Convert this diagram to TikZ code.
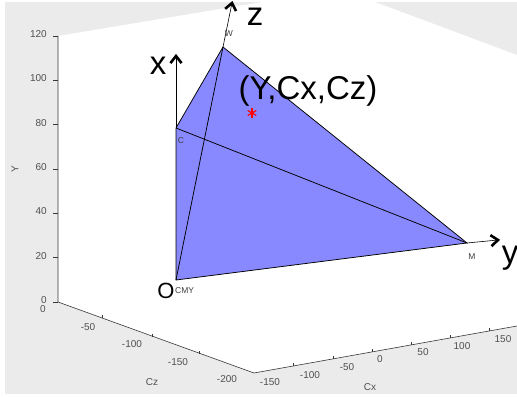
\documentclass[tikz,border=0pt]{standalone}
\usepackage{fontspec}
\setmainfont{Liberation Sans}
\usetikzlibrary{calc}
\definecolor{panelgray}{RGB}{235,235,235}
\definecolor{tickgray}{RGB}{80,80,80}
\definecolor{axisgray}{RGB}{55,55,55}
\definecolor{tetrablue}{RGB}{136,136,255}

\begin{document}
\begin{tikzpicture}[
  x=1pt,y=-1pt,
  every node/.style={inner sep=0pt},
  ticklabel/.style={font=\fontsize{10}{11}\selectfont,text=tickgray},
  vertexlabel/.style={font=\fontsize{8.5}{9}\selectfont,text=darkgray},
  axisname/.style={font=\fontsize{33}{36}\selectfont},
  edge/.style={line width=0.75pt,draw=black},
  boxline/.style={line width=0.6pt,draw=axisgray},
  axisline/.style={line width=0.6pt},
  axishead/.style={line width=2.6pt,line join=miter,line cap=butt},
]
  \useasboundingbox (0,0) rectangle (517,398);

  % axes panel and back walls
  \fill[panelgray] (5,2) rectangle (517,394);
  \fill[white] (58,36) -- (58,302) -- (254,373) -- (517,326)
    -- (517,55) -- (375,2) -- (262,2) -- cycle;

  % box lines
  \coordinate (ytop) at (58,36);
  \coordinate (orig) at (58,302);
  \coordinate (corner) at (254,373);
  \coordinate (cxend) at (517,326);
  \draw[boxline] (ytop) -- (orig) -- (corner) -- (cxend);

  % Y ticks
  \foreach \v in {0,20,...,120} {
    \draw[boxline] (58,{302-2.215*\v}) -- ++(-5,0);
    \node[ticklabel,anchor=east] (ty\v) at (47,{300-2.215*\v}) {\v};
  }
  \node[ticklabel,rotate=90] (ylab) at (15,169) {Y};

  % Cz ticks
  \foreach \px/\py in {102/318,152/337,199/354}
    \draw[boxline] (\px,\py) -- ++(0,-3);
  \foreach \t/\px/\py in {0/43/309,-50/88/327,-100/132/344,-150/178/362,-200/227/379}
    \node[ticklabel] (tz\t) at (\px,\py) {\t};
  \node[ticklabel] (czlab) at (152,382) {Cz};

  % Cx ticks
  \foreach \px in {293,333,372,411,450,489}
    \draw[boxline] (\px,{373-(\px-254)*42/235}) -- ++(0,-3);
  \foreach \t/\px/\py in {-150/270/382,-100/310/375,-50/347/367,0/380/359,50/423/352,100/462/346,150/503/339}
    \node[ticklabel] (tx\t) at (\px,\py) {\t};
  \node[ticklabel] (cxlab) at (370,387) {Cx};

  % tetrahedron
  \coordinate (O) at (176,280);
  \coordinate (C) at (176,128);
  \coordinate (W) at (223,47);
  \coordinate (M) at (467,243);
  \fill[tetrablue] (O) -- (C) -- (W) -- (M) -- cycle;
  \draw[edge] (O) -- (C) -- (W) -- (M) -- cycle;
  \draw[edge] (O) -- (W);
  \draw[edge] (C) -- (M);

  % coordinate arrows
  \coordinate (xtip) at (176,56);
  \coordinate (ztip) at (232,3);
  \coordinate (ytip) at (498,240);
  \foreach \from/\tip in {C/xtip,W/ztip,M/ytip} {
    \draw[axisline] (\from) -- (\tip);
    \draw[axishead] ($(\tip)!9pt!38:(\from)$) -- (\tip) -- ($(\tip)!9pt!-38:(\from)$);
  }

  % vertex labels
  \node[vertexlabel] (wlab) at (229,34) {W};
  \node[vertexlabel] (clab) at (181,141) {C};
  \node[vertexlabel] (mlab) at (472,257) {M};
  \node[vertexlabel,anchor=west] (cmylab) at (175,291) {CMY};
  \node[font=\fontsize{22}{24}\selectfont] (olab) at (166,291) {O};

  % axis names
  \node[axisname] (xname) at (158,66) {x};
  \node[axisname] (zname) at (255,17) {z};
  \node[axisname] (yname) at (510,258) {y};

  % sample point
  \node[font=\fontsize{33}{36}\selectfont] (tri) at (308,91) {(Y,Cx,Cz)};
  \coordinate (P) at (252,113);
  \foreach \a in {30,90,150}
    \draw[red,line width=1.1pt] (P) ++(\a:5) -- ++(\a:-10);
\end{tikzpicture}
\end{document}
